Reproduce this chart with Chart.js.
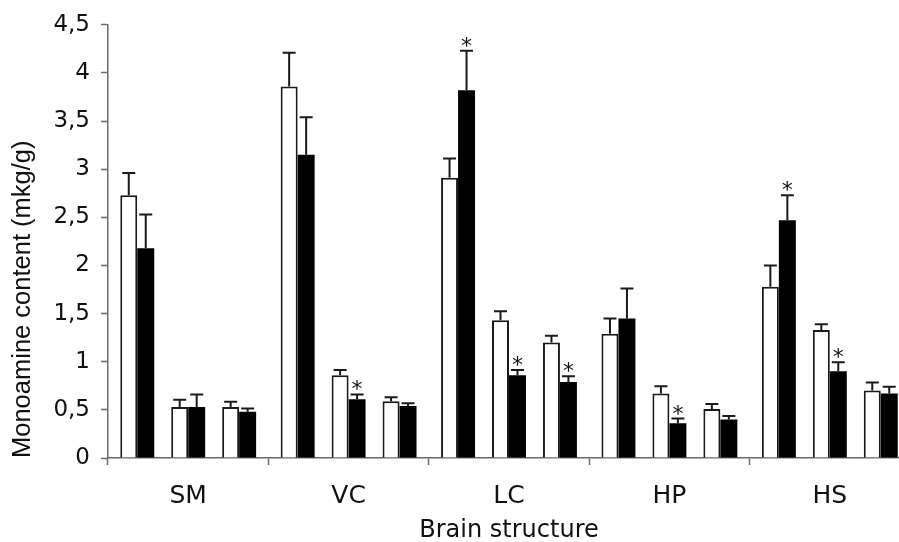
<!DOCTYPE html>
<html>
<head>
<meta charset="utf-8">
<script src="https://cdn.jsdelivr.net/npm/chart.js@4.4.1/dist/chart.umd.min.js"></script>
<style>
  html, body { margin: 0; padding: 0; background: #fff; overflow: hidden; }
  #wrap { width: 912px; height: 542px; }
</style>
</head>
<body>
<div id="wrap"><canvas id="myChart" width="912" height="542"></canvas></div>
<script>
// brain structures on the x axis
const structures = ['SM', 'VC', 'LC', 'HP', 'HS'];

// three monoamines, each as a control (white) / experimental (black) pair
const ctrl1 = [2.73, 3.86, 2.91, 1.29, 1.78];
const ctrl1Err = [0.23, 0.35, 0.20, 0.16, 0.22];
const exp1 = [2.18, 3.15, 3.82, 1.45, 2.47];
const exp1Err = [0.35, 0.39, 0.41, 0.31, 0.26];
const exp1Star = [false, false, true, false, true];

const ctrl2 = [0.53, 0.86, 1.43, 0.67, 1.33];
const ctrl2Err = [0.075, 0.055, 0.095, 0.075, 0.06];
const exp2 = [0.53, 0.61, 0.86, 0.36, 0.90];
const exp2Err = [0.13, 0.05, 0.055, 0.05, 0.095];
const exp2Star = [false, true, true, true, true];

const ctrl3 = [0.53, 0.59, 1.20, 0.51, 0.70];
const ctrl3Err = [0.055, 0.04, 0.07, 0.05, 0.085];
const exp3 = [0.48, 0.54, 0.79, 0.40, 0.67];
const exp3Err = [0.035, 0.03, 0.06, 0.035, 0.07];
const exp3Star = [false, false, true, false, false];

const yTicks = [0, 0.5, 1, 1.5, 2, 2.5, 3, 3.5, 4, 4.5];

const INK = '#111';
const AXIS = '#6b6b6b';

function white(data, err) {
  return { data, err, backgroundColor: '#fff', borderColor: '#1a1a1a', borderWidth: 2 };
}
function black(data, err, stars) {
  return { data, err, stars, backgroundColor: '#000', borderColor: '#000', borderWidth: 0 };
}
// empty slot between the pairs
function spacer() {
  return { data: structures.map(() => null), backgroundColor: 'rgba(0,0,0,0)' };
}

// error bars (upper only) and significance marks
const errorBars = {
  id: 'errorBars',
  afterDatasetsDraw(chart) {
    const ctx = chart.ctx;
    const y = chart.scales.y;
    ctx.save();
    chart.data.datasets.forEach((ds, i) => {
      if (!ds.err) return;
      chart.getDatasetMeta(i).data.forEach((bar, j) => {
        const v = ds.data[j];
        const top = y.getPixelForValue(v + ds.err[j]);
        const base = y.getPixelForValue(v);
        ctx.strokeStyle = '#1a1a1a';
        ctx.lineWidth = 2;
        ctx.beginPath();
        ctx.moveTo(bar.x, base);
        ctx.lineTo(bar.x, top);
        ctx.moveTo(bar.x - 6.5, top);
        ctx.lineTo(bar.x + 6.5, top);
        ctx.stroke();
        if (ds.stars && ds.stars[j]) {
          ctx.fillStyle = INK;
          ctx.font = '22px "DejaVu Sans"';
          ctx.textAlign = 'center';
          ctx.textBaseline = 'alphabetic';
          ctx.fillText('*', bar.x, top + 2);
        }
      });
    });
    ctx.restore();
  }
};

new Chart(document.getElementById('myChart').getContext('2d'), {
  type: 'bar',
  data: {
    labels: structures,
    datasets: [
      white(ctrl1, ctrl1Err), black(exp1, exp1Err, exp1Star), spacer(),
      white(ctrl2, ctrl2Err), black(exp2, exp2Err, exp2Star), spacer(),
      white(ctrl3, ctrl3Err), black(exp3, exp3Err, exp3Star)
    ]
  },
  options: {
    responsive: false,
    animation: false,
    devicePixelRatio: 1,
    barPercentage: 1,
    categoryPercentage: 0.847,
    layout: { padding: { top: 21, right: 2, left: 0, bottom: 0 } },
    plugins: {
      legend: { display: false },
      tooltip: { enabled: false }
    },
    scales: {
      x: {
        afterFit: (s) => { s.height = 84; },
        grid: {
          drawOnChartArea: false,
          drawTicks: true,
          tickLength: 7,
          tickColor: AXIS,
          tickWidth: 1.5
        },
        border: { display: true, color: AXIS, width: 1.5 },
        ticks: {
          color: INK,
          padding: 16,
          font: { family: '"DejaVu Sans"', size: 25 }
        },
        title: {
          display: true,
          text: 'Brain structure',
          color: INK,
          font: { family: '"DejaVu Sans"', size: 24 },
          padding: { top: 0, bottom: -3 }
        }
      },
      y: {
        min: 0,
        max: 4.5,
        afterFit: (s) => { s.width = 108; },
        afterBuildTicks: (s) => { s.ticks = yTicks.map((v) => ({ value: v })); },
        grid: {
          drawOnChartArea: false,
          drawTicks: true,
          tickLength: 7,
          tickColor: AXIS,
          tickWidth: 1.5
        },
        border: { display: true, color: AXIS, width: 1.5 },
        ticks: {
          color: INK,
          padding: 11,
          font: { family: '"DejaVu Sans"', size: 23 },
          callback: (v) => String(v).replace('.', ',')
        },
        title: {
          display: true,
          text: 'Monoamine content (mkg/g)',
          align: 'start',
          color: INK,
          font: { family: '"Liberation Sans"', size: 25.5 },
          padding: { top: 8, bottom: 0 }
        }
      }
    }
  },
  plugins: [errorBars]
});
</script>
</body>
</html>
